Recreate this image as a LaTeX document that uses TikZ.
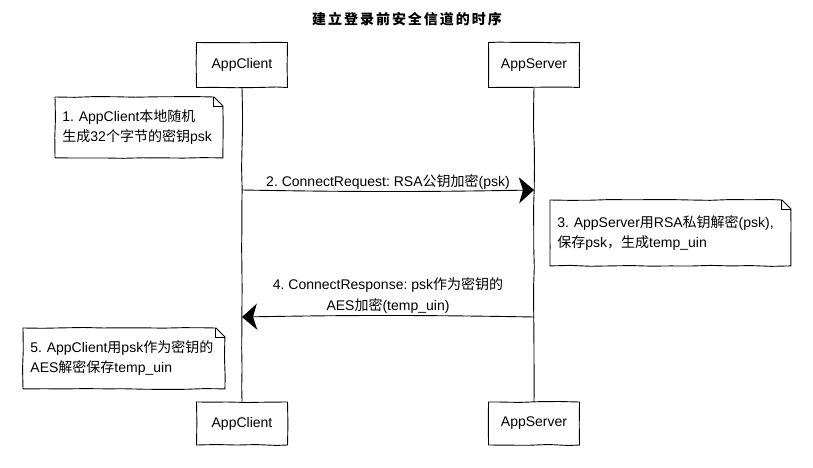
\documentclass[tikz,border=0pt]{standalone}
\usepackage{fontspec}
\setmainfont{Liberation Sans}
\newfontfamily\cjk{Noto Sans CJK SC}
\newfontfamily\cjktitle[LetterSpace=14]{Noto Sans CJK SC}
\usetikzlibrary{arrows.meta, decorations.pathmorphing}
\frenchspacing

\newcommand{\zh}[1]{{\cjk #1}}
% folded corner outline around a note node
\newcommand{\notefold}[1]{%
  \draw[rough] (#1.north west) -- ([xshift=-9pt]#1.north east) -- ([yshift=-9pt]#1.north east) -- (#1.south east) -- (#1.south west) -- cycle;
  \draw ([xshift=-9pt]#1.north east) -- ([xshift=-9pt,yshift=-9pt]#1.north east) -- ([yshift=-9pt]#1.north east);}

\tikzset{
  rough/.style={decorate, decoration={random steps, segment length=20pt, amplitude=0.5pt}},
  actor/.style={draw, rough, minimum width=91pt, minimum height=45pt, font=\fontsize{14}{17}\selectfont},
  note/.style={anchor=north west, align=left, inner xsep=7pt, font=\fontsize{14}{20}\selectfont},
  msg/.style={-{Stealth[length=15pt,width=26pt,inset=4pt]}},
  msglabel/.style={font=\fontsize{14}{21}\selectfont, align=center, inner sep=2pt}
}

\begin{document}
\begin{tikzpicture}[x=1pt, y=-1pt, line width=0.9pt]
\pgfmathsetseed{7}
\useasboundingbox (0,0) rectangle (813,468);

\node[font=\cjktitle\bfseries\fontsize{14}{17}\selectfont] (title) at (407,19) {建立登录前安全信道的时序};

% participants
\node[actor] (cTop) at (242,65) {AppClient};
\node[actor] (sTop) at (534,65) {AppServer};
\node[actor, minimum height=43pt] (cBot) at (242,423.5) {AppClient};
\node[actor, minimum height=43pt] (sBot) at (534,423.5) {AppServer};

\draw[rough] (cTop) -- (cBot);
\draw[rough] (sTop) -- (sBot);

% notes
\node[note, text width=153pt, minimum height=60pt] (n1) at (55,97) {1. AppClient\zh{本地随机}\\\zh{生成}32\zh{个字节的密钥}psk};
\notefold{n1}

\node[note, text width=226pt, minimum height=65pt] (n3) at (550,200) {3. AppServer\zh{用}RSA\zh{私钥解密}(psk),\\\zh{保存}psk\zh{，生成}temp\_uin};
\notefold{n3}

\node[note, text width=187pt, minimum height=60pt] (n5) at (23,328) {5. AppClient\zh{用}psk\zh{作为密钥的}\\AES\zh{解密保存}temp\_uin};
\notefold{n5}

% messages
\coordinate (c2) at (cTop.south |- 0,190);
\coordinate (s2) at (sTop.south |- 0,190);
\draw[msg] (c2) to[bend right=1] node[msglabel, above] {2. ConnectRequest: RSA\zh{公钥加密}(psk)} (s2);

\coordinate (s4) at (sTop.south |- 0,317);
\coordinate (c4) at (cTop.south |- 0,317);
\draw[msg] (s4) to[bend right=1] node[msglabel, above] {4. ConnectResponse: psk\zh{作为密钥的}\\AES\zh{加密}(temp\_uin)} (c4);
\end{tikzpicture}
\end{document}
